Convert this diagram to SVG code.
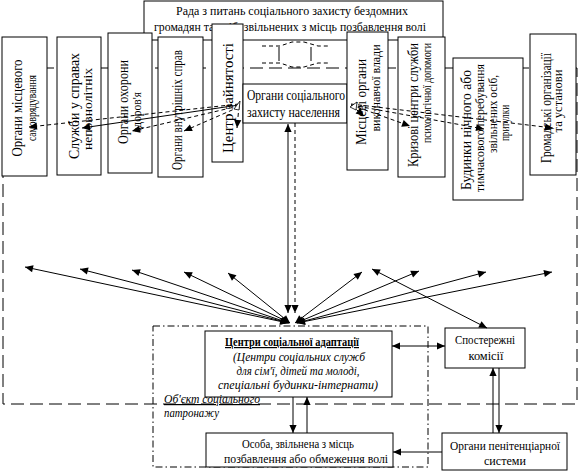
<svg xmlns="http://www.w3.org/2000/svg" width="581" height="476" viewBox="0 0 581 476">
<style>
.box{fill:#fff;stroke:#000;stroke-width:1}
.ln{stroke:#000;stroke-width:1;fill:none}
.d{stroke-dasharray:4,3}
.ld{stroke-dasharray:13,6}
.dd{stroke-dasharray:7,3,1.5,3}
text{font-family:'Liberation Serif','DejaVu Serif','Times New Roman',serif;fill:#000}
.b14{font-size:14px}
.b13{font-size:13px}
.b12{font-size:12px}
.it{font-style:italic;font-size:12px}
</style>
<defs>
<marker id="ah" viewBox="0 0 10 10" refX="10" refY="5" markerWidth="9" markerHeight="8" markerUnits="userSpaceOnUse" orient="auto-start-reverse">
<path d="M0,0.5 L10,5 L0,9.5 z" fill="#000"/>
</marker>
</defs>
<g font-family="'Liberation Serif','DejaVu Serif',serif">
<g id="frames">
<rect class="ln ld" x="3" y="68" width="574" height="336"/>
<rect class="ln dd" x="153" y="326" width="275" height="141"/>
</g>

<g id="council">
<rect class="box" x="144" y="1" width="299" height="39"/>
<text class="b12" x="176" y="15" textLength="232" lengthAdjust="spacingAndGlyphs">Рада з питань соціального захисту бездомних</text>
<text class="b12" x="154" y="31" textLength="272" lengthAdjust="spacingAndGlyphs">громадян та осіб, звільнених з місць позбавлення волі</text>
<path class="ln d" d="M262,46 H280 L292,42 H304 L318,46 H328 M262,63 H280 L292,67 H304 L318,63 H328"/>
<path class="ln" d="M279,47 V61 M311,47 V61"/>
</g>

<g id="n1">
<rect class="box" x="2" y="37" width="45" height="139"/>
<text class="b14" transform="translate(22,156.5) rotate(-90)" textLength="97" lengthAdjust="spacingAndGlyphs">Органи місцевого</text>
<text class="b12" transform="translate(36,141) rotate(-90)" textLength="66" lengthAdjust="spacingAndGlyphs">самоврядування</text>
</g>
<g id="n2">
<rect class="box" x="57" y="37" width="44" height="138"/>
<text class="b14" transform="translate(79,159) rotate(-90)" textLength="106" lengthAdjust="spacingAndGlyphs">Служби у справах</text>
<text class="b12" transform="translate(92,150) rotate(-90)" textLength="82" lengthAdjust="spacingAndGlyphs">неповнолітніх</text>
</g>
<g id="n3">
<rect class="box" x="108" y="33" width="44" height="140"/>
<text class="b14" transform="translate(128,144) rotate(-90)" textLength="84" lengthAdjust="spacingAndGlyphs">Органи охорони</text>
<text class="b12" transform="translate(141,132) rotate(-90)" textLength="40" lengthAdjust="spacingAndGlyphs">здоров'я</text>
</g>
<g id="n4">
<rect class="box" x="158" y="37" width="45" height="140"/>
<text class="b14" transform="translate(182,170) rotate(-90)" textLength="120" lengthAdjust="spacingAndGlyphs">Органи внутрішніх справ</text>
</g>
<g id="n5">
<rect class="box" x="212" y="24" width="31" height="138"/>
<text class="b14" transform="translate(233,153) rotate(-90)" style="font-size:15px" textLength="110" lengthAdjust="spacingAndGlyphs">Центр зайнятості</text>
</g>
<g id="n6">
<rect class="box" x="243" y="84" width="104" height="39"/>
<text class="b14" x="247" y="100" textLength="98" lengthAdjust="spacingAndGlyphs">Органи соціального</text>
<text class="b14" x="247" y="117" textLength="93" lengthAdjust="spacingAndGlyphs">захисту населення</text>
</g>
<g id="n7">
<rect class="box" x="347" y="32" width="41" height="138"/>
<text class="b14" transform="translate(366,145) rotate(-90)" textLength="86" lengthAdjust="spacingAndGlyphs">Місцеві органи</text>
<text class="b12" transform="translate(380,131.5) rotate(-90)" textLength="87" lengthAdjust="spacingAndGlyphs">виконавчої влади</text>
</g>
<g id="n8">
<rect class="box" x="398" y="37" width="47" height="140"/>
<text class="b14" transform="translate(418,167) rotate(-90)" textLength="124" lengthAdjust="spacingAndGlyphs">Кризові центри служби</text>
<text class="b12" transform="translate(431,143) rotate(-90)" textLength="100" lengthAdjust="spacingAndGlyphs">психологічної допомоги</text>
</g>
<g id="n9">
<rect class="box" x="453" y="58" width="70" height="142"/>
<text class="b14" transform="translate(471,190) rotate(-90)" textLength="120" lengthAdjust="spacingAndGlyphs">Будинки нічного або</text>
<text class="b12" transform="translate(484,192) rotate(-90)" textLength="128" lengthAdjust="spacingAndGlyphs">тимчасового перебування</text>
<text class="b12" transform="translate(497,153) rotate(-90)" textLength="78" lengthAdjust="spacingAndGlyphs">звільнених осіб,</text>
<text class="b12" transform="translate(509,141) rotate(-90)" textLength="36" lengthAdjust="spacingAndGlyphs">притулки</text>
</g>
<g id="n10">
<rect class="box" x="530" y="34" width="46" height="141"/>
<text class="b14" transform="translate(551,163) rotate(-90)" textLength="110" lengthAdjust="spacingAndGlyphs">Громадські організації</text>
<text class="b12" transform="translate(562,132.5) rotate(-90)" textLength="63" lengthAdjust="spacingAndGlyphs">та установи</text>
</g>

<g id="n11">
<rect class="box" x="205" y="331" width="187" height="66"/>
<text class="b12" x="225" y="346" font-weight="bold" text-decoration="underline" textLength="134" lengthAdjust="spacingAndGlyphs">Центри соціальної адаптації</text>
<text class="it" x="233" y="361" textLength="132" lengthAdjust="spacingAndGlyphs">(Центри соціальних служб</text>
<text class="it" x="236.5" y="375" textLength="123" lengthAdjust="spacingAndGlyphs">для сім'ї, дітей та молоді,</text>
<text class="it" x="218" y="389" textLength="160" lengthAdjust="spacingAndGlyphs">спеціальні будинки-інтернати)</text>
</g>
<g id="n12">
<rect class="box" x="206" y="433" width="187" height="34"/>
<text class="b13" x="242" y="448" textLength="112" lengthAdjust="spacingAndGlyphs">Особа, звільнена з місць</text>
<text class="b13" x="224" y="463" textLength="164" lengthAdjust="spacingAndGlyphs">позбавлення або обмеження волі</text>
</g>
<g id="n13">
<rect class="box" x="445" y="328" width="80" height="40"/>
<text class="b13" x="455" y="344" textLength="60" lengthAdjust="spacingAndGlyphs">Спостережні</text>
<text class="b12" x="468.5" y="360" textLength="35" lengthAdjust="spacingAndGlyphs">комісії</text>
</g>
<g id="n14">
<rect class="box" x="442" y="433" width="125" height="37"/>
<text class="b13" x="450" y="450" textLength="110" lengthAdjust="spacingAndGlyphs">Органи пенітенціарної</text>
<text class="b12" x="484" y="465" textLength="42" lengthAdjust="spacingAndGlyphs">системи</text>
</g>

<g id="label">
<text class="it" x="164" y="403" text-decoration="underline" textLength="96" lengthAdjust="spacingAndGlyphs">Об'єкт соціального</text>
<text class="it" x="164" y="417" textLength="55" lengthAdjust="spacingAndGlyphs">патронажу</text>
</g>

<g id="connectors">
<path class="ln d" d="M239,104 L29,127" marker-end="url(#ah)"/>
<path class="ln" d="M239,105 L82,128" marker-end="url(#ah)"/>
<path class="ln d" d="M239,106 L132,131" marker-end="url(#ah)"/>
<path class="ln d" d="M239,107 L184,131" marker-end="url(#ah)"/>
<path class="ln d" d="M239,106 L237,128" marker-end="url(#ah)"/>
<polygon points="234,109 240,101 239,110" fill="#fff" stroke="#000" stroke-width="0.8"/>
<path class="ln d" d="M351,105 L364,116" marker-end="url(#ah)"/>
<path class="ln d" d="M351,105 L410,126" marker-end="url(#ah)"/>
<path class="ln d" d="M351,105 L484,129" marker-end="url(#ah)"/>
<path class="ln d" d="M351,104 L553,128" marker-end="url(#ah)"/>
<polygon points="350,107 357,102 356,110" fill="#fff" stroke="#000" stroke-width="0.8"/>
<path class="ln" d="M288,124 V313" marker-start="url(#ah)" marker-end="url(#ah)"/>
<path class="ln d" d="M295,123 V313" marker-end="url(#ah)"/>
<path class="ln" d="M288,323 L25,267" marker-start="url(#ah)" marker-end="url(#ah)"/>
<path class="ln" d="M289,323 L80,269" marker-start="url(#ah)" marker-end="url(#ah)"/>
<path class="ln" d="M289,323 L132,270" marker-start="url(#ah)" marker-end="url(#ah)"/>
<path class="ln" d="M290,323 L184,272" marker-start="url(#ah)" marker-end="url(#ah)"/>
<path class="ln" d="M290,323 L228,273" marker-start="url(#ah)" marker-end="url(#ah)"/>
<path class="ln" d="M295,323 L362,272" marker-start="url(#ah)" marker-end="url(#ah)"/>
<path class="ln" d="M296,323 L419,271" marker-start="url(#ah)" marker-end="url(#ah)"/>
<path class="ln" d="M297,323 L486,272" marker-start="url(#ah)" marker-end="url(#ah)"/>
<path class="ln" d="M297,323 L552,272" marker-start="url(#ah)" marker-end="url(#ah)"/>
<path class="ln" d="M372,269 L487,328" marker-start="url(#ah)" marker-end="url(#ah)"/>
<path class="ln" d="M392,346 H445" marker-start="url(#ah)" marker-end="url(#ah)"/>
<path class="ln" d="M442,452 H393" marker-end="url(#ah)"/>
<path class="ln" d="M493,433 V368" marker-end="url(#ah)"/>
<path class="ln" d="M499,368 V433" marker-end="url(#ah)"/>
<path class="ln" d="M293,397 V433" marker-end="url(#ah)"/>
<path class="ln" d="M307,433 V397" marker-end="url(#ah)"/>
</g>
</g>
</svg>
